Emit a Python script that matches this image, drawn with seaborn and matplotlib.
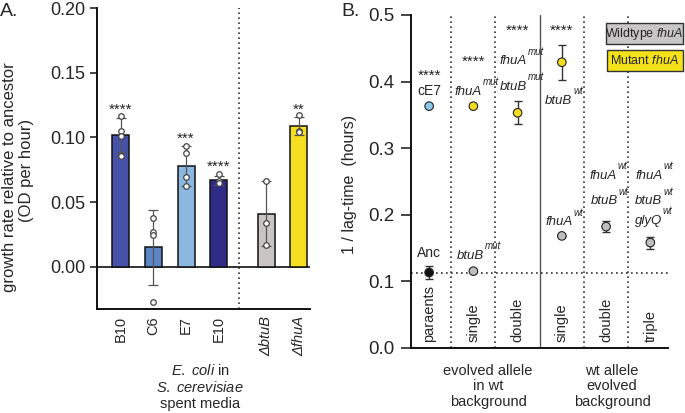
import numpy as np
import pandas as pd
import matplotlib

matplotlib.use("Agg")
import matplotlib.pyplot as plt
import seaborn as sns
from matplotlib.patches import Rectangle

sns.set_style("ticks")
plt.rcParams['font.family'] = ['Liberation Sans', 'DejaVu Sans']
plt.rcParams['mathtext.fontset'] = 'custom'
plt.rcParams['mathtext.rm'] = 'Liberation Sans'
plt.rcParams['mathtext.it'] = 'Liberation Sans:italic'

# ===================== panel A data =====================
strains = ["B10", "C6", "E7", "E10", "ΔbtuB", "ΔfhuA"]
strain_pos = [0, 1, 2, 3, 4.45, 5.45]
bar_colors = ["#4651A8", "#5B86C6", "#8AB8E0", "#2F2B86", "#C9C5C5", "#F4DF22"]
rate_mean = [0.102, 0.015, 0.078, 0.067, 0.041, 0.109]
rate_sd = [0.013, 0.029, 0.0155, 0.0035, 0.025, 0.007]
rate_reps = [
    [0.117, 0.105, 0.101, 0.086],
    [0.0377, 0.0268, 0.0247, -0.0273],
    [0.0937, 0.0879, 0.0693, 0.0628],
    [0.0715, 0.066, 0.065],
    [0.066, 0.034, 0.0165],
    [0.1175, 0.105, 0.104],
]
stars_a = ["****", "", "***", "****", "", "**"]
stars_a_y = [0.118, 0, 0.096, 0.074, 0, 0.118]

# ===================== panel B data =====================
groups = ["paraents", "single", "double", "single", "double", "triple"]
lag_x = [0, 0, 1, 1, 2, 3, 3, 4, 5]
lag_y = [0.113, 0.363, 0.363, 0.115, 0.353, 0.429, 0.168, 0.182, 0.158]
lag_err = [0.0095, 0, 0, 0, 0.0175, 0.026, 0, 0.008, 0.009]
lag_kind = ["anc", "ce7", "mut", "wt", "mut", "mut", "wt", "wt", "wt"]
kind_colors = {"anc": "#111111", "ce7": "#8CC8EA", "mut": "#F2DC1E", "wt": "#BEBEBE"}
stars_b_x = [0, 1, 2, 3]
stars_b_y = [0.403, 0.423, 0.470, 0.470]
anc_line = 0.113

# allele labels: (right edge x, baseline y, gene, superscript)
allele_labels = [
    (1.19, 0.380, "fhuA", "mut"),
    (1.24, 0.134, "btuB", "mut"),
    (2.205, 0.426, "fhuA", "mut"),
    (2.21, 0.388, "btuB", "mut"),
    (3.24, 0.366, "btuB", "wt"),
    (3.24, 0.184, "fhuA", "wt"),
    (4.25, 0.2535, "fhuA", "wt"),
    (4.26, 0.2155, "btuB", "wt"),
    (5.275, 0.2535, "fhuA", "wt"),
    (5.275, 0.2155, "btuB", "wt"),
    (5.27, 0.186, "glyQ", "wt"),
]

fig = plt.figure(figsize=(6.85, 4.13), dpi=100)
axA = fig.add_axes([0.1412, 0.2511, 0.3114, 0.7288])
axB = fig.add_axes([0.600, 0.1581, 0.3752, 0.8056])

# ===================== panel A =====================
df_a = pd.DataFrame({"pos": strain_pos, "rate": rate_mean, "strain": strains})
sns.barplot(data=df_a, x="pos", y="rate", hue="strain", palette=bar_colors,
            native_scale=True, width=0.52, saturation=1, edgecolor="#111111",
            linewidth=1.1, legend=False, errorbar=None, ax=axA, zorder=2)
axA.errorbar(strain_pos, rate_mean, yerr=rate_sd, fmt="none", ecolor="#555555",
             elinewidth=0.9, capsize=3.5, capthick=0.9, zorder=3)
pts_x = [p for p, reps in zip(strain_pos, rate_reps) for _ in reps]
pts_y = [v for reps in rate_reps for v in reps]
sns.scatterplot(x=pts_x, y=pts_y, ax=axA, s=16, color="white", edgecolor="#444444",
                linewidth=0.9, zorder=4, legend=False)
for p, s, y in zip(strain_pos, stars_a, stars_a_y):
    if s:
        axA.text(p, y, s, ha="center", va="baseline", fontsize=11, color="#222222")

axA.axhline(0, color="#111111", lw=1.2, zorder=1)
axA.axvline(3.62, color="#333333", lw=1.2, ls=(0, (1, 2)))
axA.set_xlim(-0.73, 5.79)
axA.set_ylim(-0.033, 0.2)
axA.set_yticks([0.0, 0.05, 0.10, 0.15, 0.20])
axA.set_yticklabels(["0.00", "0.05", "0.10", "0.15", "0.20"])
axA.set_xticks(strain_pos)
axA.set_xticklabels(strains, rotation=90, fontsize=10.5)
for lab in axA.get_xticklabels()[4:]:
    lab.set_fontstyle("italic")
axA.tick_params(axis="x", length=0, pad=5)
axA.tick_params(axis="y", labelsize=13, length=5, width=1.2, pad=3)
axA.set_xlabel("")
axA.set_ylabel("")
for sp in ["top", "right"]:
    axA.spines[sp].set_visible(False)
for sp in ["left", "bottom"]:
    axA.spines[sp].set_linewidth(1.4)
    axA.spines[sp].set_color("#111111")

fig.text(10 / 685, 1 - 177 / 413, "growth rate relative to ancestor", rotation=90,
         ha="center", va="center", fontsize=12)
fig.text(26 / 685, 1 - 170 / 413, "(OD per hour)", rotation=90,
         ha="center", va="center", fontsize=12)
fig.text(200 / 685, 1 - 370.7 / 413, r"$\mathit{E.\ coli}$ in", ha="center", va="center", fontsize=10.5)
fig.text(200 / 685, 1 - 387 / 413, r"$\mathit{S.\ cerevisiae}$", ha="center", va="center", fontsize=10.5)
fig.text(200 / 685, 1 - 404 / 413, "spent media", ha="center", va="center", fontsize=10.5)

# ===================== panel B =====================
axB.errorbar(lag_x, lag_y, yerr=lag_err, fmt="none", ecolor="#333333",
             elinewidth=1.0, capsize=3, capthick=1.0, zorder=3)
sns.scatterplot(x=lag_x, y=lag_y, hue=lag_kind, palette=kind_colors, s=38,
                edgecolor="#222222", linewidth=0.8, legend=False, ax=axB, zorder=4)
for xv in [0.5, 1.5, 3.5, 4.5]:
    axB.axvline(xv, color="#333333", lw=1.2, ls=(0, (1, 2)), zorder=1)
axB.axvline(2.5, color="#555555", lw=1.0, zorder=1)
axB.axhline(anc_line, color="#333333", lw=1.2, ls=(0, (1, 2)), zorder=1)

for x, s, y in zip(stars_b_x, ["****"] * 4, stars_b_y):
    axB.text(x, y, s, ha="center", va="baseline", fontsize=11, color="#222222")
axB.text(0, 0.380, "cE7", ha="center", va="baseline", fontsize=10)
axB.text(0, 0.137, "Anc", ha="center", va="baseline", fontsize=10)
for x, y, gene, sup in allele_labels:
    axB.text(x, y, gene, ha="right", va="baseline", style="italic", fontsize=9.5)
    axB.annotate(sup, (x, y), xytext=(0.5, 7), textcoords="offset points",
                 ha="left", va="baseline", style="italic", fontsize=7)
for i, g in enumerate(groups):
    axB.text(i, 0.009, g, rotation=90, ha="center", va="bottom", fontsize=10.5)

# legend boxes
axB.add_patch(Rectangle((0.758, 0.913), 0.302, 0.062, transform=axB.transAxes,
                        fc="#C8C6C6", ec="#333333", lw=1.0, clip_on=False, zorder=6))
axB.text(0.909, 0.944, r"Wildtype $\mathit{fhuA}$", transform=axB.transAxes,
         ha="center", va="center", fontsize=9, zorder=7)
axB.add_patch(Rectangle((0.761, 0.833), 0.299, 0.062, transform=axB.transAxes,
                        fc="#F5E11A", ec="#333333", lw=1.0, clip_on=False, zorder=6))
axB.text(0.909, 0.864, r"Mutant $\mathit{fhuA}$", transform=axB.transAxes,
         ha="center", va="center", fontsize=9, zorder=7)

axB.set_xlim(-0.41, 5.40)
axB.set_ylim(0, 0.5)
axB.set_yticks([0.0, 0.1, 0.2, 0.3, 0.4, 0.5])
axB.set_yticklabels(["0.0", "0.1", "0.2", "0.3", "0.4", "0.5"])
axB.set_xticks([])
axB.tick_params(axis="y", labelsize=13.5, length=7, width=1.2, pad=5)
axB.set_ylabel("1 / lag-time  (hours)", fontsize=11.5)
axB.yaxis.set_label_coords(-0.21, 0.49)
for sp in ["top", "right"]:
    axB.spines[sp].set_visible(False)
for sp in ["left", "bottom"]:
    axB.spines[sp].set_linewidth(1.4)
    axB.spines[sp].set_color("#111111")

fig.text(488 / 685, 1 - 386.5 / 413, "evolved allele\nin wt\nbackground",
         ha="center", va="center", fontsize=10.5, linespacing=1.15)
fig.text(612 / 685, 1 - 386.5 / 413, "wt allele\nevolved\nbackground",
         ha="center", va="center", fontsize=10.5, linespacing=1.15)

fig.text(0 / 685, 1 - 11 / 413, "A.", ha="left", va="center", fontsize=14)
fig.text(341 / 685, 1 - 11 / 413, "B.", ha="left", va="center", fontsize=14)

fig.savefig("out.png", dpi=100)
